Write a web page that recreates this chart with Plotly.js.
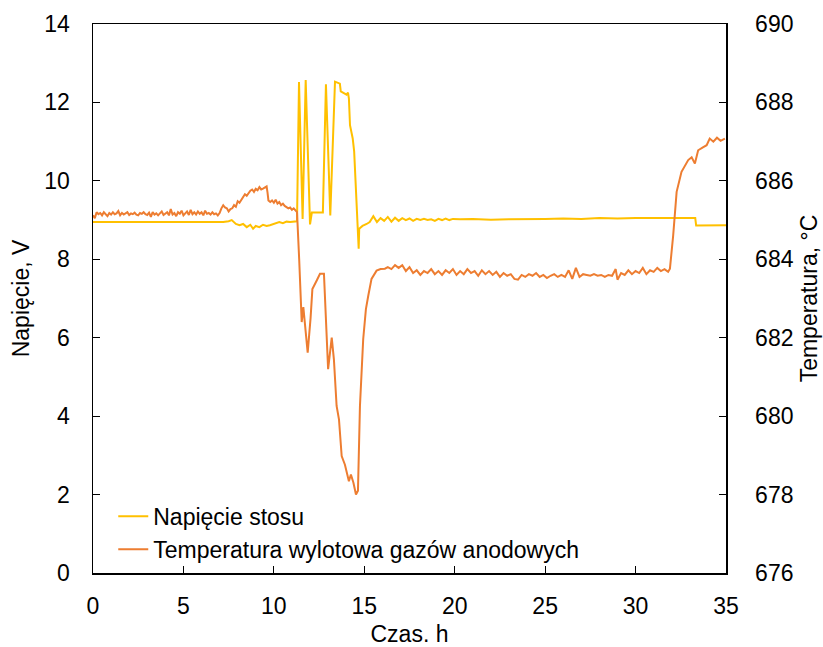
<!DOCTYPE html>
<html>
<head>
<meta charset="utf-8">
<script src="https://cdn.plot.ly/plotly-3.0.1.min.js"></script>
<style>html,body{margin:0;padding:0;background:#fff;}#chart{width:823px;height:647px;}</style>
</head>
<body>
<div id="chart"></div>
<script>
// Napięcie stosu (V) vs time (h)
const voltTime = [0, 7.2, 7.5, 7.67, 7.9, 8.1, 8.3, 8.5, 8.7, 8.85, 9.0, 9.2, 9.4, 9.6, 9.78, 10.0, 10.3, 10.5, 10.7, 10.9, 11.1, 11.28,
  11.39, 11.59, 11.76, 12.0, 12.1, 12.71, 12.88, 13.12, 13.38, 13.65, 13.7, 14.02, 14.1, 14.15, 14.21, 14.3, 14.36, 14.44, 14.69, 14.72,
  14.9, 15.13, 15.3, 15.5, 15.7, 15.9, 16.1, 16.3, 16.5, 16.7, 16.9, 17.1, 17.3, 17.5, 17.7, 17.9, 18.1, 18.3, 18.5, 18.7, 18.9, 19.1,
  19.3, 19.5, 19.7, 19.9, 20.3, 21, 22, 23, 24, 25, 26, 27, 28, 29, 30, 31, 32, 33.3, 33.35, 35];
const voltValues = [8.95, 8.95, 8.97, 9.0, 8.9, 8.87, 8.9, 8.82, 8.88, 8.78, 8.85, 8.82, 8.88, 8.85, 8.87, 8.9, 8.95, 8.92, 8.96, 8.95, 8.97, 8.97,
  12.52, 9.03, 12.57, 8.89, 9.19, 9.19, 12.46, 9.12, 12.53, 12.48, 12.28, 12.2, 12.25, 12.1, 11.42, 11.2, 11.08, 10.75, 8.27, 8.78,
  8.85, 8.9, 8.95, 9.1, 8.95, 9.05, 8.98, 9.08, 8.96, 9.06, 8.98, 9.05, 9.0, 9.04, 8.98, 9.03, 9.0, 9.03, 9.0, 9.02, 8.98, 9.03,
  9.0, 9.04, 9.0, 9.03, 9.02, 9.03, 9.01, 9.02, 9.02, 9.03, 9.04, 9.03, 9.05, 9.04, 9.05, 9.05, 9.05, 9.05, 8.86, 8.87];

// Temperatura wylotowa gazów anodowych (°C) vs time (h) — segment before the disturbance
const tempTimeA = [0.0, 0.1, 0.2, 0.3, 0.4, 0.5, 0.6, 0.7, 0.8, 0.9, 1.0, 1.1, 1.2, 1.3, 1.4, 1.5, 1.6, 1.7, 1.8, 1.9,
  2.0, 2.1, 2.2, 2.3, 2.4, 2.5, 2.6, 2.7, 2.8, 2.9, 3.0, 3.1, 3.2, 3.3, 3.4, 3.5, 3.6, 3.7, 3.8, 3.9,
  4.0, 4.1, 4.2, 4.3, 4.4, 4.5, 4.6, 4.7, 4.8, 4.9, 5.0, 5.1, 5.2, 5.3, 5.4, 5.5, 5.6, 5.7, 5.8, 5.9,
  6.0, 6.1, 6.2, 6.3, 6.4, 6.5, 6.6, 6.7, 6.8, 6.9, 7.0, 7.1, 7.2, 7.3, 7.4, 7.5, 7.6, 7.7, 7.8, 7.9,
  8.0, 8.1, 8.2, 8.3, 8.4, 8.5, 8.6, 8.7, 8.8, 8.9, 9.0, 9.1, 9.2, 9.3, 9.4, 9.5, 9.6, 9.65, 9.7, 9.8, 9.9,
  10.0, 10.1, 10.2, 10.3, 10.4, 10.5, 10.6, 10.7, 10.8, 10.9, 11.0, 11.1, 11.2, 11.28];
const tempValuesA = [685.12, 685.05, 685.2, 685.15, 685.18, 685.12, 685.2, 685.16, 685.1, 685.18, 685.14, 685.2, 685.15, 685.17, 685.23,
  685.12, 685.18, 685.14, 685.16, 685.2, 685.13, 685.17, 685.15, 685.19, 685.14, 685.12, 685.18, 685.16, 685.2, 685.15,
  685.13, 685.19, 685.08, 685.2, 685.14, 685.17, 685.12, 685.18, 685.22, 685.13, 685.16, 685.2, 685.12, 685.28, 685.14,
  685.18, 685.1, 685.2, 685.16, 685.24, 685.12, 685.18, 685.22, 685.13, 685.26, 685.15, 685.2, 685.14, 685.22, 685.16,
  685.2, 685.12, 685.24, 685.16, 685.18, 685.14, 685.2, 685.15, 685.17, 685.12, 685.18, 685.3, 685.38, 685.32, 685.3,
  685.22, 685.28, 685.3, 685.38, 685.34, 685.48, 685.44, 685.52, 685.6, 685.66, 685.62, 685.7, 685.75, 685.78, 685.72,
  685.8, 685.76, 685.84, 685.78, 685.8, 685.82, 685.86, 685.7, 685.5, 685.46, 685.5, 685.44, 685.52, 685.42, 685.46,
  685.38, 685.42, 685.36, 685.34, 685.3, 685.32, 685.26, 685.3, 685.24, 685.2];

// disturbance and after
const tempTimeB = [11.4, 11.54, 11.63, 11.7, 11.87, 12.03, 12.13, 12.37, 12.55, 12.77, 12.82, 13.0, 13.2,
  13.32, 13.47, 13.6, 13.75, 13.93, 14.15, 14.26, 14.4, 14.54, 14.65, 14.76, 14.94, 15.09, 15.22, 15.4, 15.68, 15.9, 16.14, 16.3,
  16.5, 16.7, 16.9, 17.1, 17.3, 17.5, 17.7, 17.9, 18.1, 18.3, 18.5, 18.7, 18.9, 19.1, 19.3, 19.5, 19.7, 19.9, 20.1, 20.3, 20.5, 20.7,
  20.9, 21.1, 21.3, 21.5, 21.7, 21.9, 22.1, 22.3, 22.5, 22.7, 22.9, 23.1, 23.3, 23.5, 23.7, 23.9, 24.1, 24.3, 24.5, 24.7, 24.9, 25.1,
  25.3, 25.5, 25.7, 25.9, 26.1, 26.3, 26.5, 26.7, 26.9, 27.1, 27.3, 27.5, 27.7, 27.9, 28.1, 28.3, 28.5, 28.7, 28.9, 29.0, 29.2, 29.4,
  29.6, 29.8, 30.0, 30.2, 30.4, 30.6, 30.8, 31.0, 31.2, 31.4, 31.6, 31.8, 31.9, 32.08, 32.27, 32.54, 32.91, 33.1, 33.28, 33.46, 33.7,
  33.93, 34.1, 34.3, 34.5, 34.7, 34.94];
const tempValuesB = [684.0, 682.4, 682.78, 682.4, 681.62, 682.5, 683.24, 683.46, 683.63,
  683.63, 683.16, 681.2, 682.0, 681.45, 680.26, 679.92, 678.98, 678.76, 678.34, 678.51, 678.3, 678.0, 678.1, 680.26, 681.96, 682.73,
  683.07, 683.5, 683.71, 683.75, 683.76, 683.8, 683.75, 683.85, 683.78, 683.85, 683.7, 683.8, 683.65, 683.72, 683.6, 683.7, 683.65,
  683.75, 683.62, 683.7, 683.6, 683.72, 683.65, 683.75, 683.6, 683.7, 683.62, 683.75, 683.65, 683.7, 683.58, 683.72, 683.62, 683.7,
  683.6, 683.68, 683.55, 683.65, 683.58, 683.62, 683.5, 683.48, 683.6, 683.55, 683.62, 683.58, 683.65, 683.55, 683.6, 683.52, 683.58,
  683.62, 683.55, 683.6, 683.55, 683.72, 683.5, 683.78, 683.55, 683.62, 683.6, 683.58, 683.62, 683.58, 683.6, 683.55, 683.6, 683.58,
  683.75, 683.48, 683.65, 683.6, 683.72, 683.62, 683.7, 683.65, 683.78, 683.62, 683.72, 683.68, 683.78, 683.7, 683.75, 683.68, 683.76,
  684.61, 685.72, 686.23, 686.53, 686.6, 686.44, 686.78, 686.85, 686.91, 687.08, 687.0, 687.1, 687.02, 687.08];

const tempTime = tempTimeA.concat(tempTimeB);
const tempValues = tempValuesA.concat(tempValuesB);

const xTicks = [0, 5, 10, 15, 20, 25, 30, 35];
const yLeftTicks = [0, 2, 4, 6, 8, 10, 12, 14];
const yRightTicks = [676, 678, 680, 682, 684, 686, 688, 690];

const FONT = 'Liberation Sans, Arial, sans-serif';

const traces = [
  {x: voltTime, y: voltValues, type: 'scatter', mode: 'lines', name: 'Napięcie stosu',
   line: {color: '#FFC000', width: 2}, yaxis: 'y'},
  {x: tempTime, y: tempValues, type: 'scatter', mode: 'lines', name: 'Temperatura wylotowa gazów anodowych',
   line: {color: '#ED7D31', width: 2}, yaxis: 'y2'}
];

const axisCommon = {showgrid: false, zeroline: false, showline: true, linecolor: '#000', linewidth: 1.5,
  ticks: 'inside', ticklen: 7, tickwidth: 1.2, tickcolor: '#000', tickfont: {family: FONT, size: 23, color: '#000'}};

const layout = {
  width: 823, height: 647,
  margin: {l: 93, r: 97, t: 24, b: 74},
  paper_bgcolor: '#fff', plot_bgcolor: '#fff',
  font: {family: FONT, color: '#000'},
  showlegend: true,
  legend: {x: 0.032, y: 0.004, xanchor: 'left', yanchor: 'bottom', bgcolor: 'rgba(0,0,0,0)',
    font: {family: FONT, size: 23, color: '#000'}, tracegroupgap: 0, itemwidth: 30},
  xaxis: Object.assign({}, axisCommon, {range: [0, 35], tickvals: xTicks, mirror: true,
    ticklabelstandoff: 12,
    title: {text: 'Czas. h', font: {family: FONT, size: 23, color: '#000'}, standoff: 8}}),
  yaxis: Object.assign({}, axisCommon, {range: [0, 14], tickvals: yLeftTicks, ticklabelstandoff: 17,
    title: {text: 'Napięcie, V', font: {family: FONT, size: 23, color: '#000'}, standoff: 8}}),
  yaxis2: Object.assign({}, axisCommon, {range: [676, 690], tickvals: yRightTicks, overlaying: 'y', side: 'right',
    ticklabelstandoff: 23,
    title: {text: 'Temperatura, °C', font: {family: FONT, size: 23, color: '#000'}, standoff: 8}})
};

Plotly.newPlot('chart', traces, layout, {displayModeBar: false, staticPlot: true});
</script>
</body>
</html>
